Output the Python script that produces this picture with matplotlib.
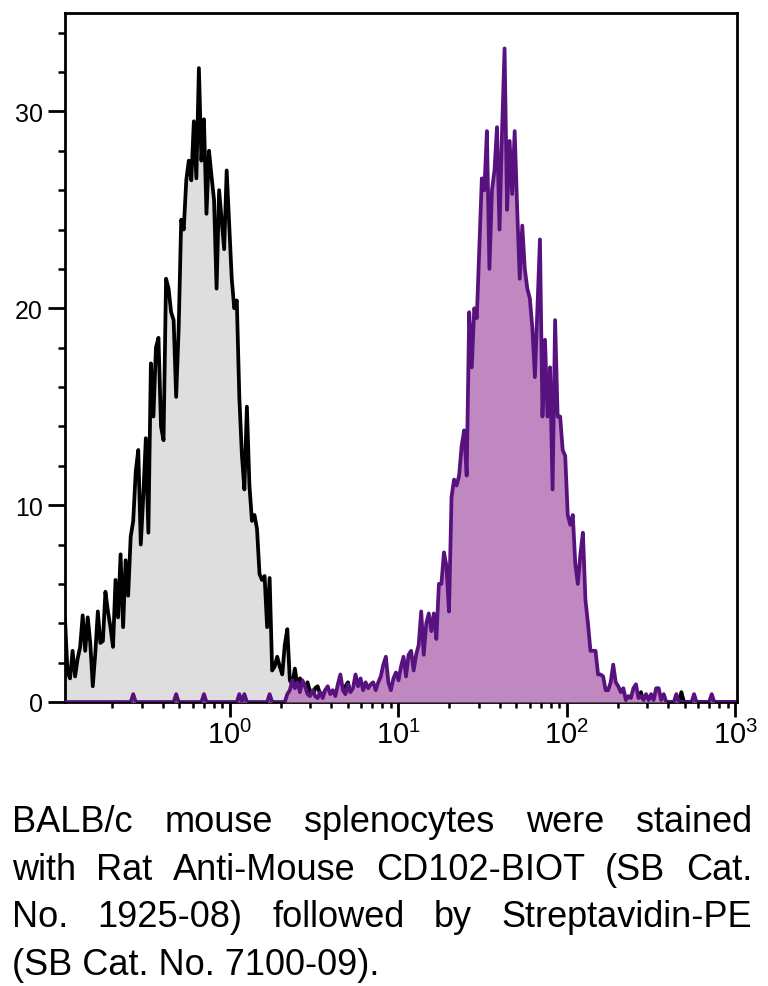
import numpy as np
import matplotlib
matplotlib.use("Agg")
import matplotlib.pyplot as plt
from matplotlib import font_manager
from matplotlib.ticker import FixedLocator, NullFormatter, FuncFormatter


def pick_font(names):
    # first installed family from the list
    for name in names:
        try:
            font_manager.findfont(name, fallback_to_default=False)
            return name
        except ValueError:
            pass
    return "DejaVu Sans"


FONT = pick_font(["Liberation Sans Narrow", "Liberation Sans"])
CAPTION_SIZE = 29 if FONT == "Liberation Sans Narrow" else 26

# --- histogram channels: log10 fluorescence, fixed step ---
LOG_START = -0.98
LOG_STEP = 0.015

# isotype / unstained control (grey)
gray_counts = [
    4.2, 1.5, 1.2, 2.6, 1.3, 2.2, 2.8, 4.4, 2.6, 4.3,
    3.0, 0.8, 2.5, 4.6, 3.0, 3.1, 5.6, 4.6, 3.8, 2.8,
    6.2, 4.3, 7.5, 3.8, 7.2, 5.4, 8.4, 9.2, 11.7, 12.8,
    8.0, 10.5, 13.4, 8.6, 17.2, 14.5, 18.0, 18.5, 14.0, 13.3,
    21.5, 21.0, 19.8, 19.4, 15.5, 19.0, 24.5, 24.0, 26.5, 27.5,
    26.5, 29.5, 26.6, 32.2, 27.5, 29.6, 24.8, 28.0, 26.7, 25.5,
    21.0, 26.0, 24.5, 23.0, 27.0, 24.2, 21.5, 20.0, 20.4, 15.5,
    12.6, 10.8, 15.0, 11.0, 9.2, 9.5, 8.8, 6.5, 6.2, 6.4,
    3.8, 6.3, 1.6, 1.8, 2.3, 1.8, 1.4, 2.9, 3.7, 1.1,
    0.9, 1.7, 0.8, 1.2, 1.0, 0.7, 1.0, 0.5, 0.3, 0.7,
    0.8, 0.4, 0.3, 0.6, 0.3, 0.5, 0.2, 0.4, 0.6, 0.3,
    0.4, 0.8, 1.0, 0.4, 0.2, 0, 0, 0, 0, 0,
    0, 0, 0, 0, 0, 0, 0, 0, 0, 0,
    0, 0, 0, 0, 0, 0, 0, 0, 0, 0,
    0, 0, 0, 0, 0, 0, 0, 0, 0, 0,
    0, 0, 0, 0, 0, 0, 0, 0, 0, 0,
    0, 0, 0, 0, 0, 0, 0, 0, 0, 0,
    0, 0, 0, 0, 0, 0, 0, 0, 0, 0,
    0, 0, 0, 0, 0, 0, 0, 0, 0, 0,
    0, 0, 0, 0, 0, 0, 0, 0, 0, 0,
    0, 0, 0, 0, 0, 0, 0, 0, 0, 0,
    0, 0, 0, 0, 0, 0, 0, 0, 0, 0,
    0, 0, 0, 0, 0, 0, 0, 0, 0.5, 0,
    0, 0, 0, 0, 0, 0, 0, 0, 0, 0,
    0, 0, 0, 0, 0.5, 0, 0, 0, 0, 0,
    0, 0, 0, 0, 0, 0, 0, 0, 0, 0,
    0, 0, 0, 0, 0, 0,
]

# CD102 stained (purple)
purple_counts = [
    0, 0, 0, 0, 0, 0, 0, 0, 0, 0,
    0, 0, 0, 0, 0, 0, 0, 0, 0, 0,
    0, 0, 0, 0, 0, 0, 0, 0.4, 0, 0,
    0, 0, 0, 0, 0, 0, 0, 0, 0, 0,
    0, 0, 0, 0, 0.4, 0, 0, 0, 0, 0,
    0, 0, 0, 0, 0, 0.4, 0, 0, 0, 0,
    0, 0, 0, 0, 0, 0, 0, 0, 0, 0.4,
    0, 0.4, 0, 0, 0, 0, 0, 0, 0, 0,
    0, 0.4, 0, 0, 0, 0, 0, 0, 0.4, 0.6,
    1.1, 0.7, 1.0, 0.5, 1.1, 0.8, 0.4, 0.3, 0.6, 0.3,
    0.2, 0.5, 0.2, 0.6, 0.8, 0.4, 0.6, 0.3, 0.9, 1.4,
    0.6, 0.4, 0.9, 0.5, 0.7, 1.4, 0.8, 1.2, 0.6, 1.0,
    0.7, 0.9, 1.0, 0.6, 1.0, 1.3, 1.9, 2.3, 1.0, 0.6,
    1.2, 1.5, 1.1, 1.8, 2.3, 1.3, 2.4, 2.6, 1.6, 2.4,
    2.9, 4.6, 2.4, 4.0, 4.5, 3.6, 4.5, 3.2, 6.0, 6.0,
    7.6, 6.9, 4.6, 10.4, 11.3, 11.0, 11.5, 13.0, 13.8, 11.5,
    19.8, 17.0, 20.0, 19.5, 23.0, 26.6, 26.0, 29.0, 22.0, 26.0,
    27.0, 29.2, 24.0, 29.0, 33.2, 25.0, 28.5, 25.8, 29.0, 25.0,
    21.5, 24.2, 22.0, 21.0, 20.5, 19.0, 16.5, 20.0, 23.5, 14.5,
    18.4, 14.5, 17.0, 10.8, 19.4, 14.5, 14.5, 12.8, 12.5, 9.5,
    9.0, 9.5, 7.0, 6.0, 7.5, 8.6, 5.2, 4.0, 2.6, 2.6,
    2.6, 1.4, 1.4, 1.3, 0.6, 0.6, 1.0, 1.9, 1.0, 0.8,
    0.5, 0.7, 0.1, 0.3, 0.2, 0.7, 0.9, 0.2, 0.3, 0.1,
    0.4, 0.1, 0.4, 0.1, 0.7, 0.7, 0.1, 0.4, 0, 0,
    0, 0, 0.4, 0, 0, 0, 0, 0, 0, 0.4,
    0, 0, 0, 0, 0, 0, 0.4, 0, 0, 0,
    0, 0, 0, 0, 0, 0,
]

y_ticks = [0, 10, 20, 30]
x_decades = [0, 1, 2, 3]

caption_lines = [
    "BALB/c mouse splenocytes were stained",
    "with Rat Anti-Mouse CD102-BIOT (SB Cat.",
    "No. 1925-08) followed by Streptavidin-PE",
    "(SB Cat. No. 7100-09).",
]

assert len(gray_counts) == len(purple_counts)
log_fl = LOG_START + LOG_STEP * np.arange(len(gray_counts))
fl = 10 ** log_fl

plt.rcParams["font.family"] = [FONT, "DejaVu Sans"]
plt.rcParams["mathtext.fontset"] = "custom"
plt.rcParams["mathtext.rm"] = FONT
plt.rcParams["mathtext.default"] = "regular"

W, H = 768, 987
fig = plt.figure(figsize=(W / 100, H / 100), dpi=100)
ax = fig.add_axes([65 / W, 1 - 703 / H, (737 - 65) / W, (703 - 14) / H])

# grey control first, purple on top
ax.fill_between(fl, gray_counts, 0, color="#dedede", lw=0, zorder=1)
ax.plot(fl, gray_counts, color="black", lw=2.7, zorder=2, solid_joinstyle="round")
ax.fill_between(fl, purple_counts, 0, color="#c088c0", lw=0, zorder=3)
ax.plot(fl, purple_counts, color="#58127f", lw=2.7, zorder=4, solid_joinstyle="round")

ax.set_xscale("log")
ax.set_xlim(10 ** -0.98, 10 ** 3.01)
ax.set_ylim(0, 35)

ax.xaxis.set_major_locator(FixedLocator([10.0 ** d for d in x_decades]))
ax.xaxis.set_minor_locator(FixedLocator(
    [m * 10.0 ** d for d in range(-1, 3) for m in range(2, 10)]))
ax.xaxis.set_major_formatter(FuncFormatter(
    lambda v, _: r"$\mathregular{10^{%d}}$" % round(np.log10(v))))
ax.xaxis.set_minor_formatter(NullFormatter())

ax.set_yticks(y_ticks)
ax.yaxis.set_minor_locator(FixedLocator([v for v in range(2, 35, 2) if v % 10]))

for s in ax.spines.values():
    s.set_linewidth(2.0)
ax.tick_params(which="major", direction="out", length=12, width=2.0,
               labelsize=18, pad=4)
ax.tick_params(which="minor", direction="out", length=5, width=1.8)
ax.tick_params(axis="x", which="major", length=11, pad=2, labelsize=21)
ax.tick_params(axis="x", which="minor", length=4.5)

# --- justified caption ---
left_px, right_px = 12, 752
baselines = [832, 880, 927, 975]
fig.canvas.draw()
renderer = fig.canvas.get_renderer()
for k, line in enumerate(caption_lines):
    y = 1 - baselines[k] / H
    if k == len(caption_lines) - 1:
        fig.text(left_px / W, y, line, fontsize=CAPTION_SIZE, va="baseline", ha="left")
        continue
    words = line.split()
    texts = [fig.text(0, y, w, fontsize=CAPTION_SIZE, va="baseline", ha="left")
             for w in words]
    widths = [t.get_window_extent(renderer).width for t in texts]
    gap = (right_px - left_px - sum(widths)) / (len(words) - 1)
    x = left_px
    for t, w in zip(texts, widths):
        t.set_x(x / W)
        x += w + gap

fig.savefig("out.png", dpi=100)
